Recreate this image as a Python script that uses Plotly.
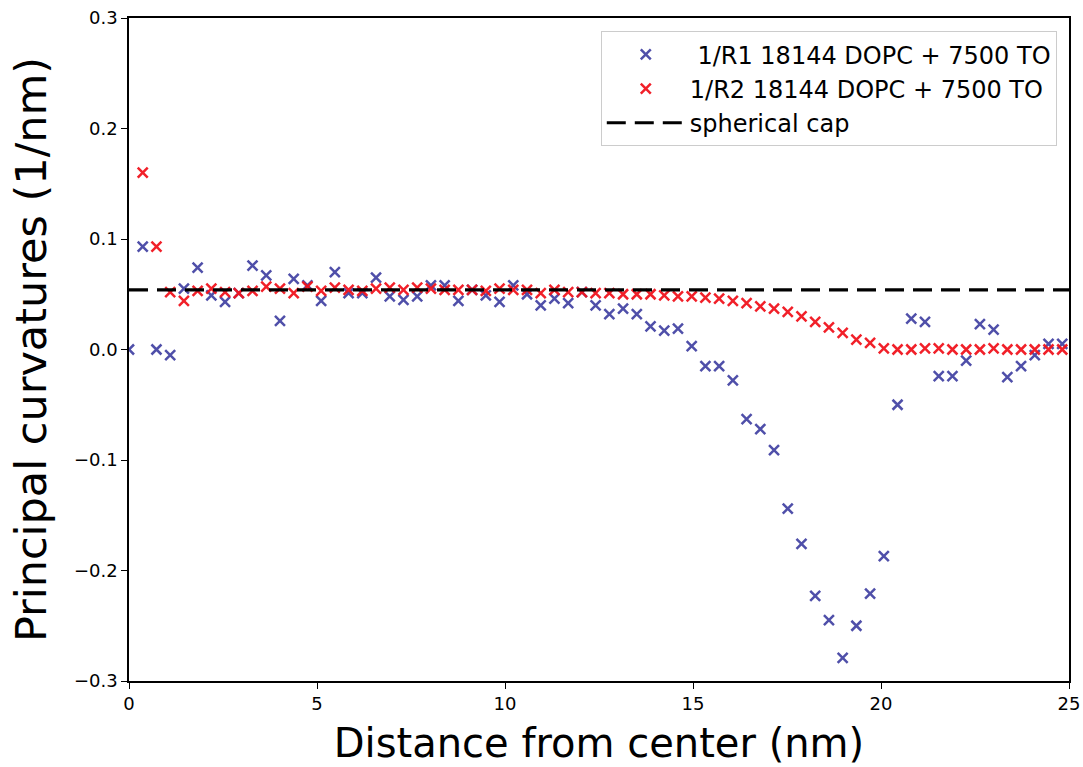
import plotly.graph_objects as go

step = 0.365
n_points = 69
distance = [round(i * step, 4) for i in range(n_points)]

inv_r1 = [
    0.000, 0.093, 0.000, -0.005, 0.055, 0.074, 0.049, 0.043, 0.051, 0.076,
    0.067, 0.026, 0.064, 0.058, 0.044, 0.070, 0.051, 0.051, 0.065, 0.048,
    0.045, 0.048, 0.058, 0.058, 0.044, 0.054, 0.049, 0.043, 0.058, 0.050,
    0.040, 0.046, 0.042, 0.052, 0.040, 0.032, 0.037, 0.032, 0.021, 0.017,
    0.019, 0.003, -0.015, -0.015, -0.028, -0.063, -0.072, -0.091, -0.144, -0.176,
    -0.223, -0.245, -0.279, -0.250, -0.221, -0.187, -0.050, 0.028, 0.025, -0.024,
    -0.024, -0.010, 0.023, 0.018, -0.025, -0.015, -0.005, 0.005, 0.005,
]

inv_r2 = [
    None, 0.160, 0.093, 0.052, 0.044, 0.053, 0.055, 0.052, 0.051, 0.053,
    0.057, 0.055, 0.051, 0.057, 0.053, 0.056, 0.054, 0.053, 0.055, 0.056,
    0.054, 0.056, 0.055, 0.054, 0.054, 0.054, 0.053, 0.055, 0.054, 0.054,
    0.051, 0.054, 0.052, 0.052, 0.051, 0.051, 0.050, 0.050, 0.050, 0.049,
    0.048, 0.048, 0.047, 0.046, 0.044, 0.042, 0.039, 0.037, 0.034, 0.030,
    0.025, 0.020, 0.015, 0.009, 0.006, 0.001, 0.000, 0.000, 0.001, 0.001,
    0.000, 0.000, 0.000, 0.001, 0.000, 0.000, 0.000, 0.000, 0.000,
]

cap_x = [0, 25]
cap_y = [0.054, 0.054]

x_ticks = [0, 5, 10, 15, 20, 25]
y_ticks = [-0.3, -0.2, -0.1, 0.0, 0.1, 0.2, 0.3]
y_tick_text = ["\u22120.3", "\u22120.2", "\u22120.1", "0.0", "0.1", "0.2", "0.3"]

blue = "rgba(60,60,160,0.9)"
red = "rgba(240,20,30,0.95)"

fig = go.Figure()
fig.add_trace(go.Scatter(
    x=distance, y=inv_r1, mode="markers",
    name=" 1/R1 18144 DOPC + 7500 TO",
    marker=dict(symbol="x-thin", size=10, line=dict(width=2.5, color=blue), color=blue),
))
fig.add_trace(go.Scatter(
    x=distance, y=inv_r2, mode="markers",
    name="1/R2 18144 DOPC + 7500 TO",
    marker=dict(symbol="x-thin", size=10, line=dict(width=2.5, color=red), color=red),
))
fig.add_trace(go.Scatter(
    x=cap_x, y=cap_y, mode="lines", name="spherical cap",
    line=dict(color="black", width=3.2, dash="19px,9px"),
))

axis_common = dict(
    showline=True, linecolor="black", linewidth=1.5, mirror=True,
    ticks="outside", ticklen=6, tickwidth=1.3, tickcolor="black",
    showgrid=False, zeroline=False, automargin=False,
    tickfont=dict(family="DejaVu Sans", size=18, color="black"),
)

fig.update_layout(
    width=1083, height=767,
    margin=dict(l=129, r=14, t=18, b=86),
    paper_bgcolor="white", plot_bgcolor="white",
    xaxis=dict(range=[0, 25], tickvals=x_ticks,
               title=dict(text="Distance from center (nm)", standoff=16,
                          font=dict(family="DejaVu Sans", size=40, color="black")),
               **axis_common),
    yaxis=dict(range=[-0.3, 0.3], tickvals=y_ticks, ticktext=y_tick_text,
               title=dict(text="Principal curvatures (1/nm)", standoff=14,
                          font=dict(family="DejaVu Sans", size=43, color="black")),
               **axis_common),
    legend=dict(x=0.987, y=0.98, xanchor="right", yanchor="top",
                bgcolor="rgba(255,255,255,0.9)", bordercolor="#cccccc", borderwidth=1,
                font=dict(family="DejaVu Sans", size=24, color="black"),
                itemwidth=78, tracegroupgap=0),
    showlegend=True,
)

fig.write_html("out.html", config={"displayModeBar": False},
               post_script="document.body.style.margin='0';")
